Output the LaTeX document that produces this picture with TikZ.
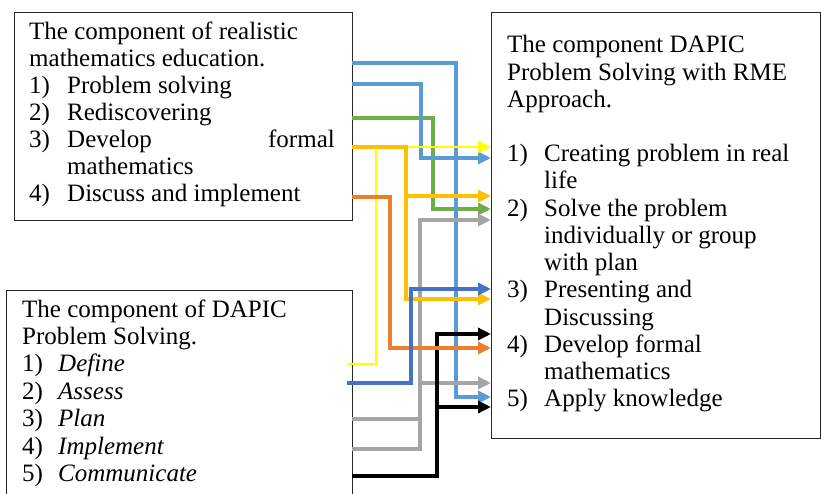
\documentclass[tikz,border=0pt]{standalone}
\usepackage{fontspec}
\setmainfont{Liberation Serif}
\usetikzlibrary{arrows.meta}
\definecolor{lblue}{HTML}{5B9BD5}
\definecolor{dblue}{HTML}{4472C4}
\definecolor{rgreen}{HTML}{70AD47}
\definecolor{rgold}{HTML}{FFC000}
\definecolor{rorange}{HTML}{ED7D31}
\definecolor{rgray}{HTML}{A5A5A5}
\definecolor{ryellow}{HTML}{FFFF00}
\begin{document}
\begin{tikzpicture}[x=1pt,y=-1pt,
  font=\fontsize{25}{27}\selectfont,
  box/.style={draw=black!85, line width=1.4pt, anchor=north west, inner sep=0pt},
  txt/.style={anchor=base west, inner sep=0pt},
  conn/.style={line width=3.4pt, -{Triangle[length=13pt,width=12pt]}},
  plain/.style={line width=3.4pt}]
\clip (0,0) rectangle (821,494);
\fill[white] (0,0) rectangle (821,494);

% boxes
\node[box, minimum width=338pt, minimum height=208pt] (b1) at (14,12) {};
\node[box, minimum width=346pt, minimum height=240pt] (b2) at (6,290) {};
\node[box, minimum width=329pt, minimum height=426pt] (b3) at (491,12) {};

% box 1 text
\node[txt] (r0) at (29,40) {The component of realistic};
\node[txt] (r0b) at (29,67) {mathematics education.};
\node[txt] (r1n) at (29,94) {1)};   \node[txt] (r1) at (67,94) {Problem solving};
\node[txt] (r2n) at (29,121) {2)};  \node[txt] (r2) at (67,121) {Rediscovering};
\node[txt] (r3n) at (29,148) {3)};  \node[txt] (r3) at (67,148) {Develop};
\node[anchor=base east, inner sep=0pt] (r3f) at (335,148) {formal};
\node[txt] (r3b) at (67,175) {mathematics};
\node[txt] (r4n) at (29,202) {4)};  \node[txt] (r4) at (67,202) {Discuss and implement};

% box 2 text
\node[txt] (d0) at (22,317) {The component of DAPIC};
\node[txt] (d0b) at (22,344.4) {Problem Solving.};
\node[txt] (d1n) at (22,371.8) {1)}; \node[txt] (d1) at (58,371.8) {\itshape Define};
\node[txt] (d2n) at (22,399.2) {2)}; \node[txt] (d2) at (58,399.2) {\itshape Assess};
\node[txt] (d3n) at (22,426.6) {3)}; \node[txt] (d3) at (58,426.6) {\itshape Plan};
\node[txt] (d4n) at (22,454) {4)};   \node[txt] (d4) at (58,454) {\itshape Implement};
\node[txt] (d5n) at (22,481.4) {5)}; \node[txt] (d5) at (58,481.4) {\itshape Communicate};

% box 3 text
\node[txt] (c0) at (507,53) {The component DAPIC};
\node[txt] (c0b) at (507,80.2) {Problem Solving with RME};
\node[txt] (c0c) at (507,107.4) {Approach.};
\node[txt] (c1n) at (507,161.8) {1)}; \node[txt] (c1) at (544,161.8) {Creating problem in real};
\node[txt] (c1b) at (544,189) {life};
\node[txt] (c2n) at (507,216.2) {2)}; \node[txt] (c2) at (544,216.2) {Solve the problem};
\node[txt] (c2b) at (544,243.4) {individually or group};
\node[txt] (c2c) at (544,270.6) {with plan};
\node[txt] (c3n) at (507,297.8) {3)}; \node[txt] (c3) at (544,297.8) {Presenting and};
\node[txt] (c3b) at (544,325) {Discussing};
\node[txt] (c4n) at (507,352.2) {4)}; \node[txt] (c4) at (544,352.2) {Develop formal};
\node[txt] (c4b) at (544,379.4) {mathematics};
\node[txt] (c5n) at (507,406.6) {5)}; \node[txt] (c5) at (544,406.6) {Apply knowledge};

% source points
\coordinate (sA) at (352,63);
\coordinate (sB) at (352,84);
\coordinate (sC) at (352,118);
\coordinate (sD) at (352,147);
\coordinate (sE) at (352,197);
\coordinate (sDef) at (347,364);
\coordinate (sAss) at (347,383);
\coordinate (sPla) at (352,419);
\coordinate (sImp) at (352,449);
\coordinate (sCom) at (352,476);
% target points
\coordinate (tY) at (491,147);
\coordinate (tB) at (491,158);
\coordinate (tGo1) at (491,196);
\coordinate (tGr) at (491,209);
\coordinate (tGy1) at (491,220);
\coordinate (tBl) at (491,289);
\coordinate (tGo2) at (491,299);
\coordinate (tK1) at (491,334);
\coordinate (tO) at (491,348);
\coordinate (tGy2) at (491,383);
\coordinate (tA) at (491,397);
\coordinate (tK2) at (491,407);

% connectors
\draw[conn, rgreen] (sC) -- (433,118) |- (tGr);
\draw[conn, lblue] (sA) -- (456,63) |- (tA);
\draw[conn, lblue] (sB) -- (421,84) |- (tB);
\draw[plain, rgray] (sImp) -- (420,449) -- (420,419);
\draw[conn, rgray] (sPla) -- (420,419) |- (tGy1);
\draw[conn, rgray] (420,383) -- (tGy2);
\draw[conn, black, line width=4pt] (sCom) -- (437,476) |- (tK1);
\draw[conn, black, line width=4pt] (437,407) -- (tK2);
\draw[conn, ryellow, line width=2.4pt] (sDef) -- (376,364) |- (tY);
\draw[conn, rgold] (sD) -- (406,147) |- (tGo1);
\draw[conn, rgold] (406,196) |- (tGo2);
\draw[conn, rorange] (sE) -- (390,197) |- (tO);
\draw[conn, dblue] (sAss) -- (411,383) |- (tBl);
\end{tikzpicture}
\end{document}
